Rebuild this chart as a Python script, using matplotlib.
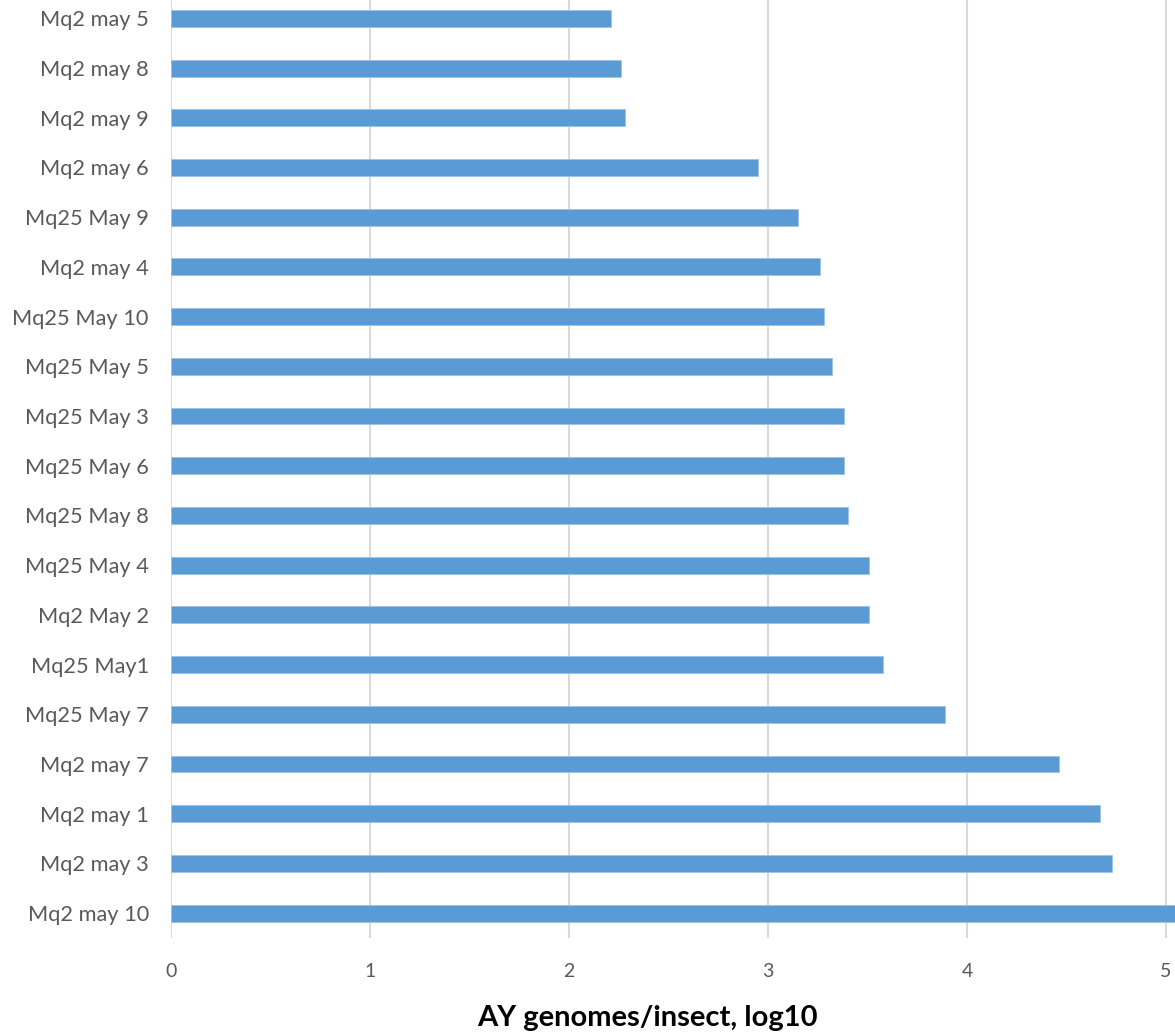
import matplotlib
matplotlib.use("Agg")
import matplotlib.pyplot as plt

# Samples listed from top to bottom
samples = [
    "Mq2 may 5", "Mq2 may 8", "Mq2 may 9", "Mq2 may 6", "Mq25 May 9",
    "Mq2 may 4", "Mq25 May 10", "Mq25 May 5", "Mq25 May 3", "Mq25 May 6",
    "Mq25 May 8", "Mq25 May 4", "Mq2 May 2", "Mq25 May1", "Mq25 May 7",
    "Mq2 may 7", "Mq2 may 1", "Mq2 may 3", "Mq2 may 10",
]
log_genomes = [
    2.21, 2.26, 2.28, 2.95, 3.15,
    3.26, 3.28, 3.32, 3.38, 3.38,
    3.40, 3.51, 3.51, 3.58, 3.89,
    4.46, 4.67, 4.73, 5.10,
]
x_ticks = [0, 1, 2, 3, 4, 5]

plt.rcParams["font.family"] = ["Lato", "DejaVu Sans"]

fig = plt.figure(figsize=(11.75, 10.34), dpi=100)
W, H = 1175, 1034
left_px, bottom_px, top_px = 171, 938, -6.5
ax = fig.add_axes([left_px / W, (H - bottom_px) / H,
                   1 - left_px / W, (bottom_px - top_px) / H])

ypos = list(range(len(samples)))
ax.barh(ypos, log_genomes, height=0.34, color="#5B9BD5",
        edgecolor="#9DC3E6", linewidth=0.6, zorder=3)

ax.set_ylim(len(samples) - 0.5, -0.5)
ax.set_xlim(0, (W - left_px) / 199.0)
ax.set_xticks(x_ticks)
ax.set_xticklabels([str(t) for t in x_ticks])
ax.set_yticks(ypos)
ax.set_yticklabels(samples)

ax.grid(axis="x", color="#D9D9D9", linewidth=1.5, zorder=0)
ax.grid(axis="y", visible=False)
for s in ax.spines.values():
    s.set_visible(False)

ax.tick_params(axis="both", length=0, labelcolor="#595959")
ax.tick_params(axis="y", pad=16, labelsize=15.7)
ax.tick_params(axis="x", pad=18, labelsize=14)

fig.text(647 / W, 1 - 1018 / H, "AY genomes/insect, log10",
         ha="center", va="center", fontsize=21, fontweight="bold",
         color="black")

fig.savefig("out.png", dpi=100)
